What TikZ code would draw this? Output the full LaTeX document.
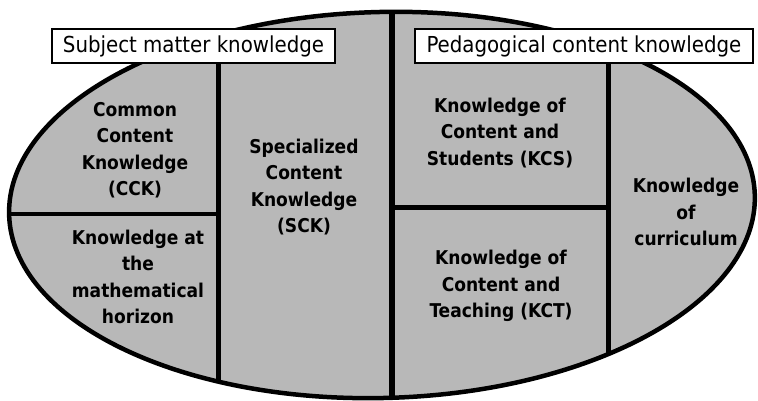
\documentclass[tikz,border=0pt]{standalone}
\usepackage{fontspec}
\setmainfont{DejaVu Sans Condensed}
\definecolor{ovalgray}{RGB}{184,184,184}

\begin{document}
\begin{tikzpicture}[x=1pt, y=-1pt]
\tikzstyle{label} = [align=center, font=\bfseries\fontsize{19}{26.5}\selectfont, text=black]
\tikzstyle{header} = [rectangle, draw=black, fill=white, line width=2.2pt, inner sep=0pt, font=\fontsize{22}{24}\selectfont, minimum height=34pt]
\tikzstyle{divider} = [line width=5.5pt, line cap=rect]

\useasboundingbox (0,0) rectangle (758,400);

% the oval
\coordinate (c) at (382,205);
\fill[ovalgray, rotate around={1.5:(c)}] (c) ellipse [x radius=373, y radius=193];

% dividing lines, trimmed by the oval
\begin{scope}
\clip[rotate around={1.5:(c)}] (c) ellipse [x radius=373, y radius=193];
\coordinate (ltop) at (218.5,46);
\coordinate (lbot) at (218.5,420);
\coordinate (mtop) at (392,-10);
\coordinate (mbot) at (392,420);
\coordinate (rtop) at (608.5,46);
\coordinate (rbot) at (608.5,420);
\coordinate (lh) at (-10,214);
\coordinate (lhend) at (218.5,214);
\coordinate (rh) at (392,207);
\coordinate (rhend) at (608.5,207);
\draw[divider] (ltop) -- (lbot);
\draw[divider] (mtop) -- (mbot);
\draw[divider] (rtop) -- (rbot);
\draw[divider, line width=4.5pt] (lh) -- (lhend);
\draw[divider, line width=5pt] (rh) -- (rhend);
\end{scope}
\draw[line width=4.5pt, rotate around={1.5:(c)}] (c) ellipse [x radius=373, y radius=193];

% headers
\node (smk) [header, minimum width=283pt] at (193.5,46) {Subject matter knowledge};
\node (pck) [header, minimum width=338pt] at (584,46) {Pedagogical content knowledge};

% the six parts
\node (cck) [label] at (135,150) {Common\\Content\\Knowledge\\(CCK)};
\node (hor) [label] at (138,277) {Knowledge at\\the\\mathematical\\horizon};
\node (sck) [label] at (304,187) {Specialized\\Content\\Knowledge\\(SCK)};
\node (kcs) [label] at (500,133) {Knowledge of\\Content and\\Students (KCS)};
\node (kct) [label] at (501,286) {Knowledge of\\Content and\\Teaching (KCT)};
\node (cur) [label] at (686,212) {Knowledge\\of\\curriculum};

\end{tikzpicture}
\end{document}
